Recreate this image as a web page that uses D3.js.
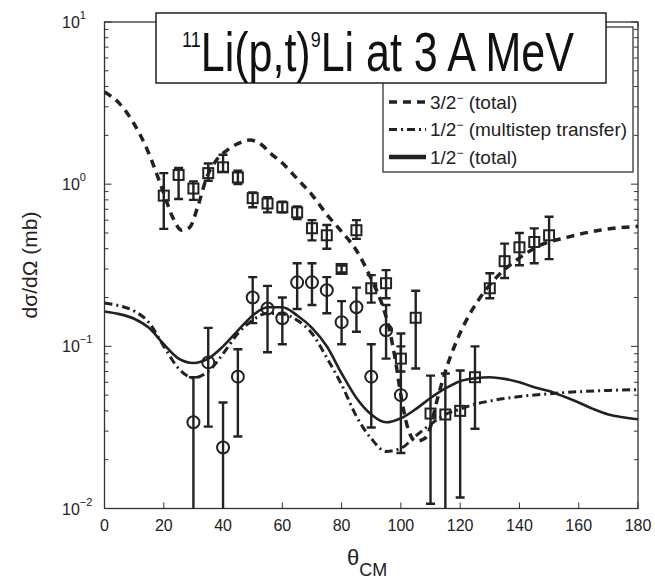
<!DOCTYPE html>
<html>
<head>
<meta charset="utf-8">
<script src="https://cdn.jsdelivr.net/npm/d3@7"></script>
<style>
  body { margin: 0; background: #fff; }
  svg { display: block; font-family: "Liberation Sans", Arial, Helvetica, sans-serif; }
</style>
</head>
<body>
<div id="chart"></div>
<script>
// 3/2- data (squares)
var sqTheta = [20, 25, 30, 35, 40, 45, 50, 55, 60, 65, 70, 75, 80, 85, 90, 95, 100, 105, 110, 115, 120, 125, 130, 135, 140, 145, 150];
var sqVal   = [0.85, 1.14, 0.94, 1.17, 1.27, 1.10, 0.82, 0.76, 0.72, 0.67, 0.535, 0.484, 0.30, 0.52, 0.228, 0.245, 0.084, 0.15, 0.0385, 0.038, 0.040, 0.0645, 0.228, 0.335, 0.408, 0.44, 0.484];
var sqLo    = [0.53, 0.81, 0.80, 1.05, 1.19, 1.00, 0.72, 0.67, 0.67, 0.61, 0.45, 0.40, 0.285, 0.46, 0.186, 0.198, 0.07, 0.073, 0.0107, 0.004, 0.0117, 0.031, 0.198, 0.264, 0.316, 0.325, 0.345];
var sqHi    = [1.17, 1.26, 1.04, 1.34, 1.52, 1.21, 0.89, 0.83, 0.78, 0.73, 0.60, 0.56, 0.315, 0.60, 0.275, 0.295, 0.10, 0.22, 0.066, 0.068, 0.071, 0.10, 0.282, 0.43, 0.50, 0.534, 0.63];

// 1/2- data (circles)
var ciTheta = [30, 35, 40, 45, 50, 55, 60, 65, 70, 75, 80, 85, 90, 95, 100];
var ciVal   = [0.034, 0.0796, 0.0238, 0.065, 0.20, 0.171, 0.149, 0.248, 0.248, 0.222, 0.141, 0.174, 0.065, 0.1256, 0.05];
var ciLo    = [0.004, 0.032, 0.004, 0.0278, 0.139, 0.092, 0.103, 0.17, 0.18, 0.16, 0.103, 0.123, 0.0316, 0.084, 0.022];
var ciHi    = [0.0645, 0.13, 0.045, 0.096, 0.267, 0.236, 0.20, 0.325, 0.325, 0.267, 0.19, 0.23, 0.103, 0.18, 0.12];

// 3/2- (total) curve
var dashTheta = [0, 5, 10, 14.5, 19.6, 23, 26, 28.7, 31.4, 34.5, 37.8, 42, 45, 49, 53, 56, 60, 65, 70, 75, 80, 85, 90, 94, 96, 98, 100, 102, 105, 108, 110, 112, 115, 119, 124, 128, 133, 139, 147, 156, 167, 180];
var dashVal   = [3.7, 3.15, 2.35, 1.62, 0.92, 0.625, 0.52, 0.54, 0.72, 1.1, 1.41, 1.65, 1.78, 1.87, 1.75, 1.55, 1.35, 1.08, 0.86, 0.65, 0.51, 0.39, 0.26, 0.174, 0.13, 0.085, 0.05, 0.033, 0.026, 0.027, 0.032, 0.045, 0.07, 0.11, 0.167, 0.215, 0.275, 0.34, 0.42, 0.47, 0.52, 0.55];

// 1/2- (multistep transfer) curve
var ddTheta = [0, 5, 10, 15, 20, 25, 30, 35, 40, 45, 50, 55, 60, 65, 70, 75, 80, 85, 90, 95, 100, 105, 110, 115, 120, 125, 130, 140, 150, 160, 170, 180];
var ddVal   = [0.185, 0.178, 0.165, 0.14, 0.1, 0.073, 0.064, 0.07, 0.09, 0.12, 0.145, 0.16, 0.158, 0.145, 0.12, 0.085, 0.058, 0.037, 0.027, 0.0225, 0.0235, 0.028, 0.033, 0.038, 0.041, 0.044, 0.046, 0.049, 0.051, 0.0525, 0.0535, 0.054];

// 1/2- (total) curve
var solTheta = [0, 5, 10, 15, 20, 25, 30, 35, 40, 45, 50, 55, 60, 65, 70, 75, 80, 85, 90, 95, 100, 105, 110, 115, 120, 125, 130, 135, 140, 145, 150, 155, 160, 165, 170, 175, 180];
var solVal   = [0.164, 0.158, 0.148, 0.13, 0.103, 0.084, 0.079, 0.084, 0.1, 0.125, 0.155, 0.174, 0.174, 0.155, 0.13, 0.1, 0.068, 0.048, 0.038, 0.034, 0.036, 0.041, 0.048, 0.055, 0.061, 0.0635, 0.0645, 0.063, 0.06, 0.056, 0.053, 0.049, 0.045, 0.041, 0.038, 0.0365, 0.0355];

var xTicks = [0, 20, 40, 60, 80, 100, 120, 140, 160, 180];
var yExps = [-2, -1, 0, 1];

var legendItems = [
    {num: "3/2", rest: " (total)", dash: "8,6", w: 3.5},
    {num: "1/2", rest: " (multistep transfer)", dash: "8,4,2,4", w: 3},
    {num: "1/2", rest: " (total)", dash: null, w: 4.5}
];

var ctx = {
    w: 655,
    h: 579,
    left: 104.5,
    right: 638,
    top: 22,
    bottom: 508.5,
    ink: "#222"
};

var svg = d3.select("#chart").append("svg")
    .attr("width", ctx.w)
    .attr("height", ctx.h);

var x = d3.scaleLinear().domain([0, 180]).range([ctx.left, ctx.right]);
var y = d3.scaleLog().domain([0.01, 10]).range([ctx.bottom, ctx.top]);

svg.append("clipPath").attr("id", "plotclip")
    .append("rect")
    .attr("x", ctx.left).attr("y", ctx.top)
    .attr("width", ctx.right - ctx.left).attr("height", ctx.bottom - ctx.top);

// frame
svg.append("rect")
    .attr("x", ctx.left).attr("y", ctx.top)
    .attr("width", ctx.right - ctx.left).attr("height", ctx.bottom - ctx.top)
    .attr("fill", "none").attr("stroke", "#333").attr("stroke-width", 1.3);

// y ticks (major + minor), inward on both sides
var yTickVals = [];
yExps.forEach(function(e) {
    yTickVals.push({v: Math.pow(10, e), major: true});
    if (e < 1) {
        for (var k = 2; k <= 9; k++) yTickVals.push({v: k * Math.pow(10, e), major: false});
    }
});
var ticksG = svg.append("g").attr("stroke", "#333").attr("stroke-width", 1);
ticksG.selectAll(".ytl").data(yTickVals).enter().append("line")
    .attr("x1", ctx.left).attr("x2", d => ctx.left + (d.major ? 7 : 4))
    .attr("y1", d => y(d.v)).attr("y2", d => y(d.v));
ticksG.selectAll(".ytr").data(yTickVals).enter().append("line")
    .attr("x1", ctx.right).attr("x2", d => ctx.right - (d.major ? 7 : 4))
    .attr("y1", d => y(d.v)).attr("y2", d => y(d.v));
ticksG.selectAll(".xtb").data(xTicks).enter().append("line")
    .attr("x1", d => x(d)).attr("x2", d => x(d))
    .attr("y1", ctx.bottom).attr("y2", ctx.bottom - 6);
ticksG.selectAll(".xtt").data(xTicks).enter().append("line")
    .attr("x1", d => x(d)).attr("x2", d => x(d))
    .attr("y1", ctx.top).attr("y2", ctx.top + 6);

// tick labels
svg.selectAll(".xlab").data(xTicks).enter().append("text")
    .attr("x", d => x(d)).attr("y", ctx.bottom + 22)
    .attr("text-anchor", "middle").attr("font-size", "16px").attr("fill", ctx.ink)
    .text(d => d);

yExps.forEach(function(e) {
    var t = svg.append("text")
        .attr("x", 62).attr("y", y(Math.pow(10, e)) + 6)
        .attr("font-size", "16px").attr("fill", ctx.ink);
    t.append("tspan").text("10");
    t.append("tspan").attr("font-size", "11px").attr("dy", -9)
        .text(e < 0 ? "\u2212" + (-e) : "" + e);
});

// axis titles
svg.append("text")
    .attr("transform", "translate(37,265) rotate(-90)")
    .attr("text-anchor", "middle").attr("font-size", "21px").attr("fill", ctx.ink)
    .text("d\u03c3/d\u03a9 (mb)");

var xt = svg.append("text").attr("x", 347).attr("y", 565).attr("fill", ctx.ink);
xt.append("tspan").attr("font-size", "22px").text("\u03b8");
xt.append("tspan").attr("font-size", "18px").attr("dy", 11).text("CM");

// curves
var plot = svg.append("g").attr("clip-path", "url(#plotclip)");
var line = d3.line()
    .x(d => x(d[0]))
    .y(d => y(d[1]))
    .curve(d3.curveMonotoneX);

plot.append("path")
    .attr("d", line(d3.zip(ddTheta, ddVal)))
    .attr("fill", "none").attr("stroke", ctx.ink).attr("stroke-width", 3)
    .attr("stroke-dasharray", "8,4,2,4");
plot.append("path")
    .attr("d", line(d3.zip(solTheta, solVal)))
    .attr("fill", "none").attr("stroke", ctx.ink).attr("stroke-width", 2.6);
plot.append("path")
    .attr("d", line(d3.zip(dashTheta, dashVal)))
    .attr("fill", "none").attr("stroke", ctx.ink).attr("stroke-width", 3.5)
    .attr("stroke-dasharray", "8,6");

// error bars
var addErrors = function(thetas, lo, hi) {
    var g = plot.append("g").attr("stroke", ctx.ink).attr("stroke-width", 2.4);
    thetas.forEach(function(t, i) {
        var cx = x(t);
        g.append("line").attr("x1", cx).attr("x2", cx)
            .attr("y1", y(hi[i])).attr("y2", y(lo[i]));
        g.append("line").attr("x1", cx - 4.5).attr("x2", cx + 4.5)
            .attr("y1", y(hi[i])).attr("y2", y(hi[i]));
        g.append("line").attr("x1", cx - 4.5).attr("x2", cx + 4.5)
            .attr("y1", y(lo[i])).attr("y2", y(lo[i]));
    });
};
addErrors(sqTheta, sqLo, sqHi);
addErrors(ciTheta, ciLo, ciHi);

plot.selectAll(".sq").data(d3.zip(sqTheta, sqVal)).enter().append("rect")
    .attr("x", d => x(d[0]) - 5).attr("y", d => y(d[1]) - 5)
    .attr("width", 10).attr("height", 10)
    .attr("fill", "none").attr("stroke", ctx.ink).attr("stroke-width", 2);

plot.selectAll(".ci").data(d3.zip(ciTheta, ciVal)).enter().append("circle")
    .attr("cx", d => x(d[0])).attr("cy", d => y(d[1])).attr("r", 6)
    .attr("fill", "none").attr("stroke", ctx.ink).attr("stroke-width", 2);

// legend
var leg = svg.append("g");
leg.append("rect")
    .attr("x", 383).attr("y", 27).attr("width", 250).attr("height", 145)
    .attr("fill", "#fff").attr("stroke", "#333").attr("stroke-width", 1.3);
legendItems.forEach(function(d, i) {
    var ly = 102 + i * 27.5;
    var ln = leg.append("line")
        .attr("x1", 389).attr("x2", 426).attr("y1", ly).attr("y2", ly)
        .attr("stroke", ctx.ink).attr("stroke-width", d.w);
    if (d.dash) ln.attr("stroke-dasharray", d.dash);
    var t = leg.append("text").attr("x", 430).attr("y", ly + 6.5)
        .attr("font-size", "19px").attr("fill", ctx.ink);
    t.append("tspan").text(d.num);
    t.append("tspan").attr("font-size", "12px").attr("dy", -7).text("\u2212");
    t.append("tspan").attr("dy", 7).text(d.rest);
});

// title box
svg.append("rect")
    .attr("x", 156).attr("y", 13).attr("width", 450).attr("height", 70)
    .attr("fill", "#fff").attr("stroke", "#111").attr("stroke-width", 1.4);
var title = svg.append("g").attr("transform", "translate(378,71) scale(1,1.27)")
    .append("text").attr("text-anchor", "middle").attr("fill", "#111");
title.append("tspan").attr("font-size", "18px").attr("dy", -19).text("11");
title.append("tspan").attr("font-size", "43px").attr("dy", 19).text("Li(p,t)");
title.append("tspan").attr("font-size", "18px").attr("dy", -19).text("9");
title.append("tspan").attr("font-size", "43px").attr("dy", 19).text("Li at 3 A MeV");
</script>
</body>
</html>
